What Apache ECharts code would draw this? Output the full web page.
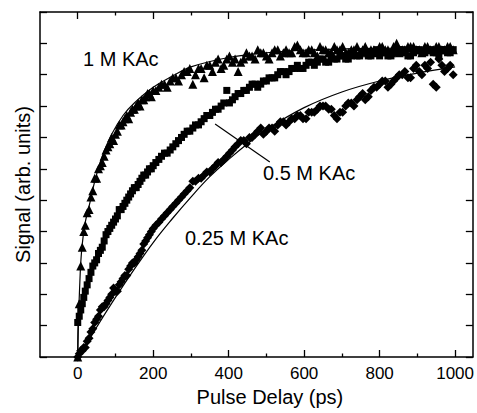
<!DOCTYPE html>
<html>
<head>
<meta charset="utf-8">
<script src="https://cdn.jsdelivr.net/npm/echarts@6/dist/echarts.min.js"></script>
<style>
html,body{margin:0;padding:0;background:#fff;}
#c{width:477px;height:413px;}
</style>
</head>
<body>
<div id="c"></div>
<script>
// ---- data ----
var delays = [0,4,8,12,16,20,25,30,35,40,45,50,
  60,70,80,90,100,110,120,130,140,150,160,170,180,190,200,
  215,230,245,260,275,290,305,320,335,350,365,380,395,410,425,440,455,470,485,500,515,530,545,560,575,590,605,620,635,650,665,680,695,710,725,740,755,770,785,800,815,830,845,860,875,890,905,920,935,950,965,980,995];

var k1M = [0.00,0.17,0.29,0.35,0.40,0.42,0.46,0.47,0.51,0.53,0.57,0.57,
  0.61,0.64,0.67,0.70,0.71,0.74,0.75,0.77,0.78,0.79,0.81,0.82,0.83,0.84,0.85,
  0.86,0.87,0.88,0.89,0.90,0.91,0.87,0.92,0.89,0.93,0.94,0.92,0.95,0.94,0.91,0.95,0.96,0.95,0.97,0.96,0.97,0.98,0.97,0.97,0.99,0.98,0.97,0.98,0.96,0.98,0.97,0.99,0.98,0.97,0.98,0.99,0.98,0.97,0.98,0.99,0.98,0.97,1.00,0.98,0.99,0.99,0.98,0.99,0.98,0.99,0.98,0.99,0.98];

var k05M = [0.11,0.13,0.15,0.17,0.19,0.21,0.23,0.25,0.27,0.29,0.30,0.31,
  0.34,0.37,0.40,0.42,0.44,0.47,0.48,0.50,0.52,0.54,0.55,0.57,0.58,0.60,0.61,
  0.63,0.65,0.66,0.68,0.70,0.72,0.73,0.74,0.76,0.77,0.79,0.80,0.85,0.82,0.84,0.85,0.86,0.87,0.87,0.88,0.89,0.90,0.91,0.91,0.92,0.92,0.93,0.94,0.94,0.95,0.94,0.95,0.96,0.95,0.96,0.96,0.97,0.96,0.97,0.96,0.97,0.96,0.97,0.98,0.96,0.97,0.98,0.97,0.98,0.97,0.98,0.97,0.98];

var k025M = [0.00,0.01,0.02,0.02,0.03,0.03,0.05,0.06,0.08,0.09,0.11,0.12,
  0.15,0.16,0.18,0.20,0.21,0.23,0.25,0.26,0.29,0.30,0.32,0.34,0.37,0.39,0.41,
  0.43,0.45,0.47,0.49,0.51,0.53,0.56,0.57,0.58,0.59,0.61,0.62,0.64,0.66,0.68,0.69,0.70,0.71,0.73,0.72,0.73,0.74,0.75,0.75,0.76,0.77,0.76,0.78,0.79,0.80,0.79,0.77,0.78,0.80,0.81,0.82,0.84,0.83,0.86,0.87,0.88,0.87,0.89,0.90,0.89,0.92,0.91,0.93,0.94,0.86,0.93,0.92,0.90];

// second (interleaved) scan
var delays2 = [55,65,75,85,95,105,115,125,135,145,155,165,175,185,195,
  207,222,237,252,267,282,297,312,327,342,357,372,387,402,417,432,447,462,477,492,507,522,537,552,567,582,597,612,627,642,657,672,687,702,717,732,747,762,777,792,807,822,837,852,867,882,897,912,927,942,957,972,987];

var k1Mb = [0.60,0.62,0.66,0.68,0.69,0.72,0.74,0.76,0.76,0.79,0.80,0.80,0.82,0.84,0.83,
  0.85,0.87,0.86,0.89,0.88,0.91,0.92,0.90,0.92,0.93,0.91,0.95,0.93,0.96,0.95,0.94,0.97,0.96,0.98,0.97,0.95,0.98,0.96,0.98,0.97,0.995,0.97,0.98,0.97,0.99,0.98,0.97,0.98,0.99,0.97,0.98,0.97,0.99,0.98,0.97,0.99,0.98,0.99,0.97,0.98,0.99,0.98,0.97,0.99,0.98,0.99,0.98,0.99];

var k05Mb = [0.33,0.35,0.39,0.41,0.43,0.45,0.47,0.49,0.51,0.53,0.54,0.56,0.58,0.59,0.60,
  0.62,0.64,0.65,0.67,0.69,0.71,0.72,0.74,0.75,0.77,0.78,0.79,0.81,0.81,0.83,0.84,0.85,0.87,0.86,0.88,0.89,0.89,0.91,0.90,0.92,0.93,0.92,0.94,0.93,0.95,0.94,0.96,0.95,0.96,0.95,0.97,0.96,0.97,0.96,0.98,0.97,0.96,0.97,0.98,0.97,0.96,0.98,0.97,0.98,0.97,0.96,0.98,0.97];

var k025Mb = [0.13,0.16,0.17,0.19,0.22,0.21,0.24,0.26,0.28,0.30,0.31,0.33,0.36,0.38,0.40,
  0.42,0.44,0.46,0.48,0.50,0.52,0.54,0.56,0.57,0.59,0.60,0.62,0.63,0.65,0.67,0.69,0.68,0.70,0.72,0.71,0.73,0.72,0.75,0.74,0.76,0.77,0.76,0.78,0.78,0.80,0.80,0.79,0.76,0.78,0.81,0.80,0.83,0.82,0.85,0.86,0.88,0.86,0.88,0.90,0.91,0.89,0.93,0.90,0.92,0.87,0.95,0.91,0.93];

var fit1T = [0,2,5,8,12,20,30,45,65,90,120,150,200,250,300,400,500,600,800,1000];
var fit1S = [0,0.12,0.22,0.30,0.36,0.43,0.48,0.56,0.64,0.71,0.77,0.81,0.86,0.895,0.925,0.955,0.97,0.978,0.984,0.986];

var fit2T = [0,1,5,10,25,50,75,100,150,200,250,300,350,400,450,500,600,700,800,900,1000];
var fit2S = [0,0.10,0.13,0.16,0.22,0.31,0.38,0.44,0.54,0.61,0.67,0.725,0.775,0.82,0.855,0.885,0.93,0.955,0.968,0.975,0.98];

var fit3T = [0,25,50,100,150,200,250,300,350,400,450,500,600,700,800,900,1000];
var fit3S = [0,0.045,0.095,0.19,0.28,0.365,0.44,0.51,0.575,0.63,0.68,0.725,0.795,0.845,0.88,0.905,0.925];

var pointerT = [364, 509];
var pointerS = [0.743, 0.622];

var xMajorTicks = [0,200,400,600,800,1000];
var xMinorTicks = [100,300,500,700,900];
var labels = ['1 M KAc', '0.5 M KAc', '0.25 M KAc'];

// ---- build ----
function pairs(xs, ys){ var r=[]; for(var i=0;i<xs.length;i++) r.push([xs[i], ys[i]]); return r; }
var FONT = 'Liberation Sans, Arial, Helvetica, sans-serif';
var chart = echarts.init(document.getElementById('c'), null, {renderer:'svg'});

function xAx(pos, ticks, len, showLine, showLabel, extra){
  var o = {
    type:'value', position:pos, min:-100, max:1047, interval:100,
    axisLine:{show:showLine, onZero:false, lineStyle:{color:'#000', width:1.5}},
    axisTick:{show:true, inside:true, length:len, customValues:ticks, lineStyle:{color:'#000', width:1.3}},
    axisLabel:{show:showLabel, customValues:xMajorTicks, color:'#000', fontSize:17, fontFamily:FONT, margin:8,
      formatter:function(v){ return (v>=0 && v%200===0) ? String(v) : ''; }},
    splitLine:{show:false}
  };
  if (extra) for (var k in extra) o[k]=extra[k];
  return o;
}
function yAx(pos, extra){
  var o = {
    type:'value', position:pos, min:0, max:1.1, interval:0.1,
    axisLine:{show:true, onZero:false, lineStyle:{color:'#000', width:1.5}},
    axisTick:{show:true, inside:true, length:7, lineStyle:{color:'#000', width:1.3}},
    axisLabel:{show:false}, splitLine:{show:false}
  };
  if (extra) for (var k in extra) o[k]=extra[k];
  return o;
}

var option = {
  animation:false,
  backgroundColor:'#fff',
  grid:{left:40, right:0, top:12, bottom:56},
  xAxis:[
    xAx('bottom', xMajorTicks, 7, true, true, {
      name:'Pulse Delay (ps)', nameLocation:'middle', nameGap:28,
      nameTextStyle:{color:'#000', fontSize:20, fontFamily:FONT, padding:[0,0,0,27]}
    }),
    xAx('bottom', xMinorTicks, 3.5, false, false),
    xAx('top', xMajorTicks, 7, true, false),
    xAx('top', xMinorTicks, 3.5, false, false)
  ],
  yAxis:[
    yAx('left', {name:'Signal (arb. units)', nameLocation:'middle', nameGap:7,
      nameTextStyle:{color:'#000', fontSize:20, fontFamily:FONT}}),
    yAx('right')
  ],
  series:[
    {type:'scatter', symbol:'triangle', symbolSize:9, itemStyle:{color:'#000', opacity:1}, data:pairs(delays,k1M).concat(pairs(delays2,k1Mb)), z:3},
    {type:'scatter', symbol:'rect', symbolSize:7, itemStyle:{color:'#000', opacity:1}, data:pairs(delays,k05M).concat(pairs(delays2,k05Mb)), z:3},
    {type:'scatter', symbol:'diamond', symbolSize:9, itemStyle:{color:'#000', opacity:1}, data:pairs(delays,k025M).concat(pairs(delays2,k025Mb)), z:3},
    {type:'line', smooth:0.4, showSymbol:false, lineStyle:{color:'#000', width:1.2}, data:pairs(fit1T,fit1S), z:4},
    {type:'line', smooth:0.4, showSymbol:false, lineStyle:{color:'#000', width:1.2}, data:pairs(fit2T,fit2S), z:4},
    {type:'line', smooth:0.4, showSymbol:false, lineStyle:{color:'#000', width:1.2}, data:pairs(fit3T,fit3S), z:4},
    {type:'line', showSymbol:false, lineStyle:{color:'#000', width:1.2}, data:pairs(pointerT,pointerS), z:4}
  ],
  graphic:[
    {type:'text', left:83, top:49, style:{text:labels[0], fill:'#000', font:'20px '+FONT}},
    {type:'text', left:263, top:163, style:{text:labels[1], fill:'#000', font:'20px '+FONT}},
    {type:'text', left:185, top:228, style:{text:labels[2], fill:'#000', font:'20px '+FONT}}
  ]
};
chart.setOption(option);
</script>
</body>
</html>
